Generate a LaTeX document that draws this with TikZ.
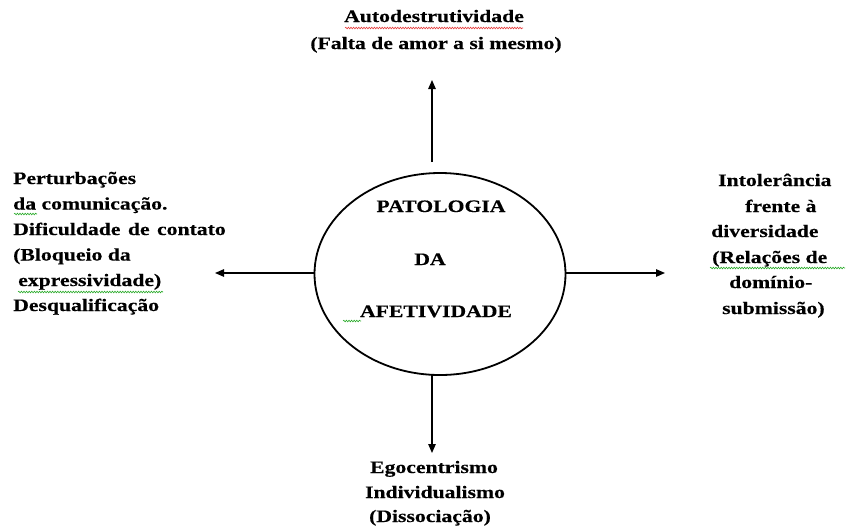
\documentclass[tikz,border=0pt]{standalone}
\usepackage{fontspec}
\setmainfont{Liberation Serif}[FakeStretch=1.24, BoldFeatures={FakeBold=0.4}]
\usetikzlibrary{shapes.geometric,arrows.meta,decorations.pathmorphing}
\definecolor{spellred}{RGB}{230,60,60}
\definecolor{spellgreen}{RGB}{40,170,40}
\tikzset{
  lbl/.style={inner sep=0pt, font=\fontsize{17.5}{25}\selectfont\bfseries},
  arr/.style={line width=1.2pt, -{Triangle[length=9pt,width=7.5pt]}},
  wavy/.style={line width=0.6pt, decorate, decoration={snake, amplitude=0.8pt, segment length=2.6pt}},
}
\begin{document}
\begin{tikzpicture}[x=1pt,y=-1pt]
\useasboundingbox (0,0) rectangle (846,531);
% central ellipse
\node[draw, ellipse, line width=1.8pt, minimum width=251pt, minimum height=202pt, inner sep=0pt] (pat) at (440,274) {};
\node[lbl, anchor=base] (c1) at (441,212) {PATOLOGIA};
\node[lbl, anchor=base] (c2) at (430,265) {DA};
\node[lbl, anchor=base] (c3) at (436,317) {AFETIVIDADE};
% top
\node[lbl, anchor=base] (t1) at (434,22) {Autodestrutividade};
\node[lbl, anchor=base] (t2) at (436,49) {(Falta de amor a si mesmo)};
% left
\node[lbl, anchor=base west] (l1) at (13,184) {Perturbações};
\node[lbl, anchor=base west] (l2) at (13,209.5) {da comunicação.};
\node[lbl, anchor=base west] (l3) at (13,235) {Dificuldade\hspace{2pt} de\hspace{2pt} contato};
\node[lbl, anchor=base west] (l4) at (13,260.5) {(Bloqueio da};
\node[lbl, anchor=base west] (l5) at (18,286) {expressividade)};
\node[lbl, anchor=base west] (l6) at (13,311) {Desqualificação};
% right
\node[lbl, anchor=base west] (r1) at (718,186) {Intolerância};
\node[lbl, anchor=base west] (r2) at (745,212) {frente à};
\node[lbl, anchor=base west] (r3) at (711,237) {diversidade};
\node[lbl, anchor=base west] (r4) at (712,263) {(Relações de};
\node[lbl, anchor=base west] (r5) at (729,288) {domínio-};
\node[lbl, anchor=base west] (r6) at (722,314) {submissão)};
% bottom
\node[lbl, anchor=base] (b1) at (434,473) {Egocentrismo};
\node[lbl, anchor=base] (b2) at (435,498) {Individualismo};
\node[lbl, anchor=base] (b3) at (430,522) {(Dissociação)};
% connector end points
\coordinate (topS) at (432,162);
\coordinate (topT) at (432,80);
\coordinate (botS) at (432,374);
\coordinate (botT) at (432,453);
\coordinate (lftT) at (215,273);
\coordinate (rgtT) at (665,273);
\draw[arr] (topS) -- (topT);
\draw[arr] (botS) -- (botT);
\draw[arr] (pat.west |- lftT) -- (lftT);
\draw[arr] (pat.east |- rgtT) -- (rgtT);
% spell-check underlines
\draw[wavy, spellred] (345,28) -- (523,28);
\draw[wavy, spellgreen] (14,214) -- (37,214);
\draw[wavy, spellgreen] (18,292) -- (163,292);
\draw[wavy, spellgreen] (710,268) -- (845,268);
\draw[wavy, spellgreen] (343,321) -- (361,321);
\end{tikzpicture}
\end{document}
